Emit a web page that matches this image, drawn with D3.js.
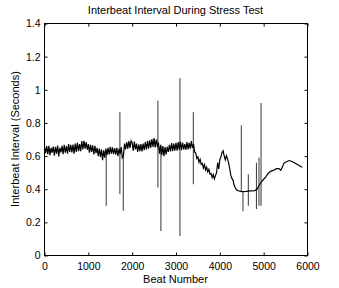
<!DOCTYPE html>
<html lang="en">
<head>
    <meta charset="UTF-8">
    <title>Interbeat Interval During Stress Test</title>
    <script src="https://d3js.org/d3.v7.min.js"></script>
    <style>
        body { margin: 0; background: #fff; }
        svg { display: block; font-family: "Liberation Sans", Arial, Helvetica, sans-serif; }
        .tick line { stroke: #000; }
        .tick text { font-size: 10.5px; fill: #000; }
        .label { font-size: 11px; fill: #000; }
    </style>
</head>
<body>
<svg id="chart" width="339" height="288"></svg>
<script>
    // noisy part of the recording, one value every 25 beats starting at beat 0
    const noisyStep = 25;
    const noisyIbi = [
        0.655, 0.618, 0.660, 0.612, 0.662, 0.605, 0.650, 0.620,
        0.658, 0.603, 0.655, 0.615, 0.664, 0.598, 0.650, 0.622,
        0.662, 0.612, 0.668, 0.620, 0.660, 0.615, 0.672, 0.625,
        0.668, 0.622, 0.670, 0.615, 0.675, 0.625, 0.680, 0.630,
        0.672, 0.630, 0.690, 0.640, 0.692, 0.645, 0.685, 0.638,
        0.672, 0.620, 0.668, 0.625, 0.665, 0.610, 0.662, 0.618,
        0.650, 0.600, 0.645, 0.595, 0.640, 0.575, 0.635, 0.590,
        0.645, 0.605, 0.650, 0.610, 0.655, 0.615, 0.652, 0.612,
        0.648, 0.608, 0.650, 0.600, 0.645, 0.612, 0.655, 0.590,
        0.600, 0.675, 0.640, 0.685, 0.645, 0.690, 0.650, 0.692,
        0.680, 0.632, 0.688, 0.640, 0.675, 0.625, 0.670, 0.630,
        0.672, 0.628, 0.675, 0.635, 0.685, 0.640, 0.692, 0.645,
        0.695, 0.650, 0.702, 0.655, 0.708, 0.652, 0.700, 0.660,
        0.675, 0.615, 0.668, 0.605, 0.660, 0.600, 0.655, 0.610,
        0.655, 0.625, 0.668, 0.628, 0.678, 0.630, 0.675, 0.632,
        0.680, 0.632, 0.685, 0.638, 0.688, 0.635, 0.682, 0.640,
        0.672, 0.638, 0.685, 0.640, 0.680, 0.645, 0.690, 0.650,
        0.672, 0.625, 0.618, 0.585, 0.595, 0.562, 0.580, 0.550,
        0.556, 0.528, 0.548, 0.515, 0.532, 0.505, 0.520, 0.492,
        0.495, 0.470, 0.488, 0.462, 0.482, 0.498, 0.560, 0.522,
        0.578, 0.595, 0.622, 0.632, 0.600, 0.578, 0.602, 0.585,
        0.558, 0.525, 0.485, 0.465, 0.455, 0.425, 0.410, 0.398
    ];

    // calmer tail of the recording
    const tailBeats = [4400, 4500, 4600, 4700, 4800, 4850, 4900, 4950, 5000, 5050, 5100, 5160,
                       5230, 5290, 5350, 5390, 5430, 5460, 5520, 5580, 5650, 5720, 5800, 5880];
    const tailIbi   = [0.392, 0.385, 0.387, 0.390, 0.392, 0.400, 0.425, 0.445, 0.460, 0.475, 0.495, 0.508,
                       0.515, 0.524, 0.525, 0.515, 0.535, 0.556, 0.566, 0.573, 0.567, 0.557, 0.545, 0.532];

    // single-beat artefacts: beat, highest and lowest value
    const spikeBeats = [1408, 1720, 1797, 2587, 2656, 3090, 3395, 4490, 4528, 4650, 4835, 4893, 4940];
    const spikeHigh  = [0.62, 0.865, 0.62, 0.935, 0.66, 1.07, 0.865, 0.785, 0.39, 0.49, 0.56, 0.59, 0.92];
    const spikeLow   = [0.30, 0.37, 0.27, 0.41, 0.147, 0.117, 0.43, 0.39, 0.267, 0.30, 0.28, 0.30, 0.30];

    const xTicks = [0, 1000, 2000, 3000, 4000, 5000, 6000];
    const yTicks = [0, 0.2, 0.4, 0.6, 0.8, 1, 1.2, 1.4];

    const margin = {top: 23, right: 32, bottom: 33, left: 44};
    const width = 339, height = 288;
    const w = width - margin.left - margin.right;
    const h = height - margin.top - margin.bottom;

    const x = d3.scaleLinear().domain([0, 6000]).range([0, w]);
    const y = d3.scaleLinear().domain([0, 1.4]).range([h, 0]);

    const series = noisyIbi.map((v, i) => [i * noisyStep, v])
        .concat(tailBeats.map((b, i) => [b, tailIbi[i]]));

    const svg = d3.select("#chart");
    const g = svg.append("g")
        .attr("transform", `translate(${margin.left + 0.5},${margin.top + 0.5})`);

    const line = d3.line().x(d => x(d[0])).y(d => y(d[1]));

    g.append("path")
        .datum(series)
        .attr("fill", "none")
        .attr("stroke", "#000")
        .attr("stroke-width", 1.2)
        .attr("d", line);

    g.selectAll(".spike")
        .data(spikeBeats.map((b, i) => [[b, spikeHigh[i]], [b, spikeLow[i]]]))
        .enter()
        .append("path")
        .attr("class", "spike")
        .attr("fill", "none")
        .attr("stroke", "#000")
        .attr("stroke-width", 0.8)
        .attr("d", line);

    // axes on all four sides, ticks pointing in
    g.append("g")
        .attr("transform", `translate(0,${h})`)
        .call(d3.axisBottom(x).tickValues(xTicks).tickSizeInner(-3).tickSizeOuter(0).tickPadding(7).tickFormat(d3.format("d")))
        .call(a => a.select(".domain").remove());
    g.append("g")
        .call(d3.axisTop(x).tickValues(xTicks).tickSizeInner(-3).tickSizeOuter(0).tickFormat(""))
        .call(a => a.select(".domain").remove());
    g.append("g")
        .call(d3.axisLeft(y).tickValues(yTicks).tickSizeInner(-3).tickSizeOuter(0).tickPadding(4).tickFormat(d3.format("")))
        .call(a => a.select(".domain").remove());
    g.append("g")
        .attr("transform", `translate(${w},0)`)
        .call(d3.axisRight(y).tickValues(yTicks).tickSizeInner(-3).tickSizeOuter(0).tickFormat(""))
        .call(a => a.select(".domain").remove());

    g.append("rect")
        .attr("width", w)
        .attr("height", h)
        .attr("fill", "none")
        .attr("stroke", "#000")
        .attr("stroke-width", 1);

    svg.append("text")
        .attr("class", "label")
        .attr("x", margin.left + w / 2)
        .attr("y", 14)
        .attr("text-anchor", "middle")
        .text("Interbeat Interval During Stress Test");

    svg.append("text")
        .attr("class", "label")
        .attr("x", margin.left + w / 2)
        .attr("y", 283)
        .attr("text-anchor", "middle")
        .text("Beat Number");

    svg.append("text")
        .attr("class", "label")
        .attr("transform", `translate(19,${margin.top + h / 2}) rotate(-90)`)
        .attr("text-anchor", "middle")
        .text("Interbeat Interval (Seconds)");
</script>
</body>
</html>
